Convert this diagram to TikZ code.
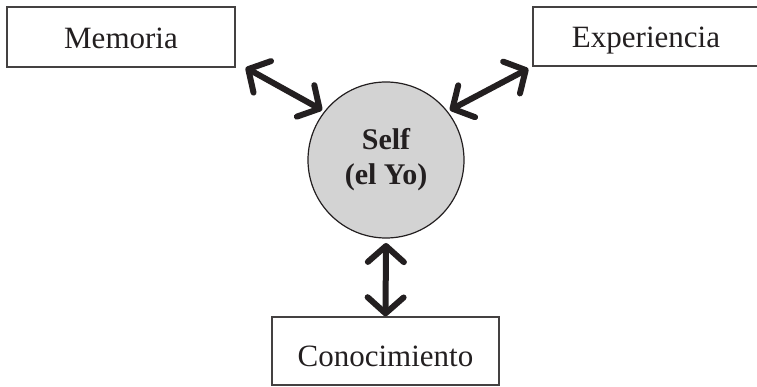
\documentclass[tikz,border=0pt]{standalone}
\usepackage{fontspec}
\setmainfont{Liberation Serif}
\usetikzlibrary{arrows.meta,calc}
\definecolor{ink}{HTML}{231F20}
\definecolor{selfgray}{HTML}{D3D3D3}
\begin{document}
\begin{tikzpicture}[x=1pt,y=-1pt,
  conceptbox/.style={draw=ink!85, line width=1.3pt, minimum width=228pt,
    minimum height=60pt, inner sep=0pt, text height=23pt, text depth=0pt,
    font=\fontsize{31}{35}\selectfont, text=ink},
  selfnode/.style={circle, draw=ink, line width=1.2pt, fill=selfgray,
    minimum size=156pt, inner sep=0pt, outer sep=3pt, align=center,
    font=\fontsize{30}{35}\selectfont\bfseries, text=ink},
  barb/.tip={Straight Barb[length=16pt,width=36pt,line cap=round,line join=round]},
  link/.style={line width=6pt, draw=ink, line cap=round, barb-barb}
]
\useasboundingbox (0,0) rectangle (757,387);

% the three concept boxes
\node[conceptbox] (mem) at (121,37) {Memoria};
\node[conceptbox, minimum width=226pt, minimum height=59pt] (exp) at (646,36.5) {Experiencia};
\node[conceptbox, minimum width=227pt, minimum height=68pt, text height=30pt] (con) at (385.5,351) {Conocimiento};

% the central self
\node[selfnode] (self) at (386,160) {Self\\(el Yo)};

% two-way links
\draw[link] ([xshift=10pt]mem.south east) -- (self.142);
\draw[link] (self.38) -- ([xshift=-4pt,yshift=-2pt]exp.south west);
\draw[link] ([yshift=-2pt]self.south) -- (con.north);
\end{tikzpicture}
\end{document}
